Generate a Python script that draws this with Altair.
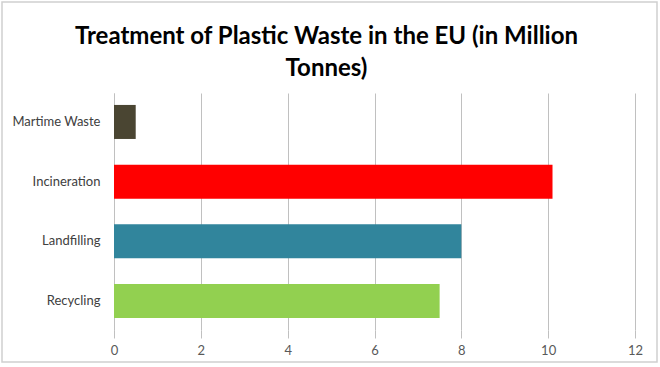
import altair as alt
import pandas as pd

categories = ["Martime Waste", "Incineration", "Landfilling", "Recycling"]
values = [0.5, 10.1, 8.0, 7.5]
colors = ["#4a4532", "#ff0000", "#31859c", "#92d050"]
x_ticks = [0, 2, 4, 6, 8, 10, 12]

df = pd.DataFrame({"category": categories, "value": values})

bars = alt.Chart(df).mark_bar().encode(
    x=alt.X("value:Q",
            scale=alt.Scale(domain=[0, 12], nice=False),
            axis=alt.Axis(values=x_ticks, title=None, domain=False, grid=True,
                          gridColor="#c0c0c0", gridWidth=1, tickColor="#c0c0c0",
                          tickSize=8, labelFontSize=13, labelColor="#595959",
                          labelFont="Lato", labelPadding=6, labelFlush=False)),
    y=alt.Y("category:N", sort=categories,
            scale=alt.Scale(paddingInner=0.43, paddingOuter=0.2),
            axis=alt.Axis(title=None, ticks=False, domain=True, domainColor="#c0c0c0",
                          labelFontSize=13, labelColor="#404040", labelFont="Lato",
                          labelPadding=14)),
    color=alt.Color("category:N", sort=categories,
                    scale=alt.Scale(domain=categories, range=colors), legend=None),
)

# decorative outer chart frame (style only)
frame = alt.Chart(alt.Data(values=[{}])).mark_rect(
    fill=None, stroke="#d0d0d0", strokeWidth=1.5
).encode(
    x=alt.value(-112), x2=alt.value(543), y=alt.value(-91), y2=alt.value(269)
)

chart = alt.layer(bars, frame).properties(
    width=521,
    height=237,
    title=alt.TitleParams(
        ["Treatment of Plastic Waste in the EU (in Million", "Tonnes)"],
        fontSize=24, font="Lato", fontWeight="bold", color="#000000",
        lineHeight=32, anchor="middle", dx=-48, offset=12, dy=92,
    ),
    autosize=alt.AutoSizeParams(type="none"),
    padding={"left": 114, "top": 93, "right": 25, "bottom": 37},
).configure(background="white").configure_view(stroke=None)

chart.save("out.html", embed_options={"renderer": "svg", "actions": False})
